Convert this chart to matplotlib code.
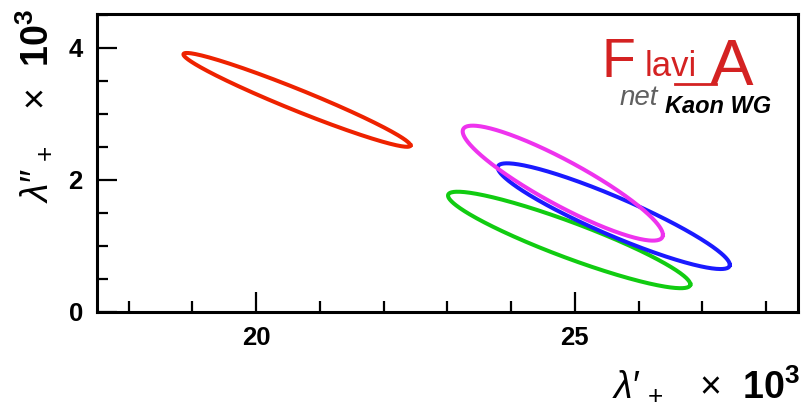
import numpy as np
import matplotlib
matplotlib.use("Agg")
import matplotlib.pyplot as plt
from matplotlib.ticker import MultipleLocator
from matplotlib.lines import Line2D

plt.rcParams['font.family'] = ['Liberation Sans', 'DejaVu Sans']
plt.rcParams['mathtext.fontset'] = 'custom'
plt.rcParams['mathtext.rm'] = 'Liberation Sans'
plt.rcParams['mathtext.it'] = 'Liberation Sans:italic'
plt.rcParams['mathtext.bf'] = 'Liberation Sans:bold'

# fit results: central values, 1-sigma widths and correlation (x 10^3)
colors = ['#ee2200', '#11cc11', '#1a1aff', '#ee33ee']
lam1_central = [20.64, 24.91, 25.61, 24.81]
lam2_central = [3.21, 1.09, 1.45, 1.95]
lam1_sigma = [1.78, 1.90, 1.82, 1.57]
lam2_sigma = [0.71, 0.73, 0.80, 0.87]
corr = [-0.97, -0.92, -0.92, -0.90]

fig = plt.figure(figsize=(8.04, 4.11), dpi=100)
ax = fig.add_axes([0.1203, 0.2409, 0.8723, 0.7251])

t = np.linspace(0, 2 * np.pi, 400)
for c, x0, y0, sx, sy, r in zip(colors, lam1_central, lam2_central,
                                lam1_sigma, lam2_sigma, corr):
    x = x0 + sx * np.cos(t)
    y = y0 + sy * (r * np.cos(t) + np.sqrt(1 - r**2) * np.sin(t))
    ax.plot(x, y, color=c, lw=2.9)

ax.set_xlim(17.5, 28.5)
ax.set_ylim(0, 4.51)
ax.set_xticks([20, 25])
ax.set_yticks([0, 2, 4])
ax.xaxis.set_minor_locator(MultipleLocator(1))
ax.yaxis.set_minor_locator(MultipleLocator(0.5))
ax.tick_params(which='both', direction='in', width=1.6, top=False, right=False,
               labelsize=18.5, pad=10)
ax.tick_params(which='major', length=14.5)
ax.tick_params(which='minor', length=8)
for lbl in ax.get_xticklabels() + ax.get_yticklabels():
    lbl.set_fontweight('bold')
for sp in ax.spines.values():
    sp.set_linewidth(2.2)

fig.text(0.995, 1 - 397 / 411, r"$\lambda$′$_{\,+}$   ×  $\mathbf{10^{3}}$",
         ha='right', va='baseline', fontsize=27)
fig.text(35 / 804, 1 - 106 / 411, r"$\lambda$″$_{\,+}$   ×  $\mathbf{10^{3}}$",
         ha='center', va='center', rotation=90, fontsize=27)

# FlaviA net logo
red = '#d42222'
fig.text(602 / 804, 1 - 77 / 411, "F", color=red, fontsize=40,
         ha='left', va='baseline')
fig.text(645 / 804, 1 - 76 / 411, "lavi", color=red, fontsize=25,
         ha='left', va='baseline')
fig.text(710 / 804, 1 - 85 / 411, "A", color=red, fontsize=47,
         ha='left', va='baseline')
fig.add_artist(Line2D([675 / 804, 716 / 804], [1 - 84 / 411, 1 - 84 / 411],
                      color=red, lw=2, transform=fig.transFigure))
fig.text(620 / 804, 1 - 105 / 411, "net", color='#606060', fontsize=20,
         style='italic', ha='left', va='baseline')
fig.text(665 / 804, 1 - 113 / 411, "Kaon WG", color='black', fontsize=17,
         style='italic', weight='bold', ha='left', va='baseline')

fig.savefig("out.png", dpi=100)
